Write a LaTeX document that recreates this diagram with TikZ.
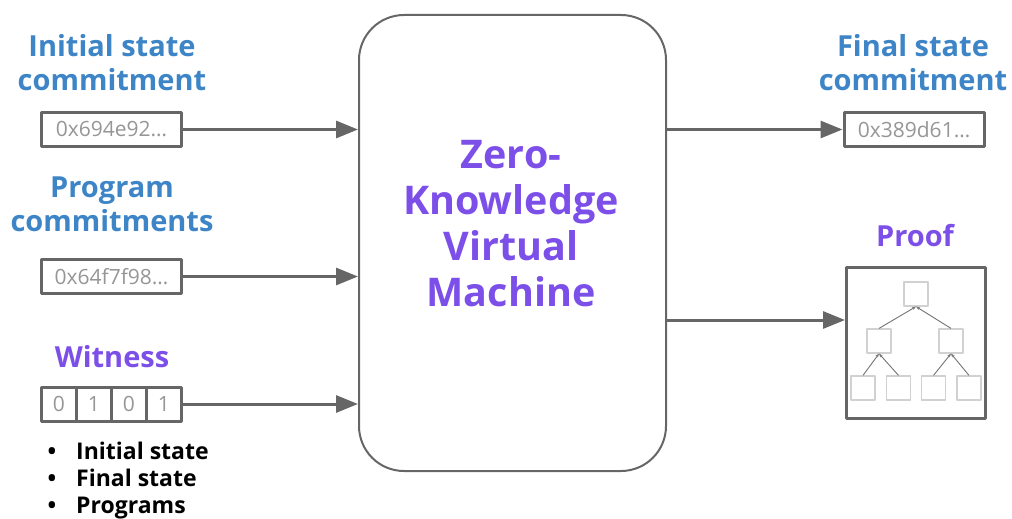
\documentclass[tikz,border=0pt]{standalone}
\usepackage{fontspec}
\setmainfont{Open Sans}
\usetikzlibrary{arrows.meta}
\definecolor{zkblue}{RGB}{61,133,198}
\definecolor{zkpurple}{RGB}{124,80,232}
\definecolor{boxgray}{RGB}{102,102,102}
\definecolor{hexgray}{RGB}{150,150,150}
\begin{document}
\begin{tikzpicture}[x=1pt,y=-1pt,line join=round,
	inlabel/.style={font=\fontsize{29}{34}\selectfont\bfseries,text=zkblue,align=center},
	plabel/.style={inlabel,text=zkpurple},
	hexbox/.style={draw=boxgray,line width=3pt,minimum width=140pt,minimum height=34pt,inner sep=0pt,font=\fontsize{21}{22}\selectfont,text=hexgray},
	bitcell/.style={hexbox,minimum width=35pt},
	flow/.style={draw=boxgray,line width=3pt,-{Triangle[length=22pt,width=17pt]}},
	leaf/.style={draw=black!18,line width=1.2pt,minimum size=24pt,inner sep=0pt},
	treelink/.style={draw=black!55,line width=0.9pt,-{Stealth[length=4pt,width=3pt]}}]
	\useasboundingbox (0,0) rectangle (1012,519);
	\node[draw=boxgray,line width=2pt,rounded corners=45pt,minimum width=307pt,minimum height=456pt] (vm) at (512.5,243) {};
	\node[font=\fontsize{39.5}{46}\selectfont\bfseries,text=zkpurple,align=center] (vmtext) at (511,224) {Zero-\\Knowledge\\Virtual\\Machine};
	\node[inlabel] (initlabel) at (112,63) {Initial state\\commitment};
	\node[hexbox] (init) at (111.5,129.5) {0x694e92…};
	\node[inlabel] (proglabel) at (112,204) {Program\\commitments};
	\node[hexbox] (prog) at (111.5,276.5) {0x64f7f98…};
	\node[plabel] (witnesslabel) at (112,357) {Witness};
	\foreach \b [count=\i] in {0,1,0,1}
		\node[bitcell] (bit\i) at ({59+(\i-1)*35},404) {\b};
	\node[anchor=west,font=\fontsize{23}{27}\selectfont\bfseries,align=left] (witnesslist) at (44,481) {\textbullet\hspace{20pt}Initial state\\\textbullet\hspace{20pt}Final state\\\textbullet\hspace{20pt}Programs};
	\node[inlabel] (finallabel) at (913,63) {Final state\\commitment};
	\node[hexbox] (final) at (914,129.5) {0x389d61…};
	\node[plabel] (prooflabel) at (915,236) {Proof};
	\node[draw=boxgray,line width=3pt,minimum width=139pt,minimum height=151pt] (proof) at (916,343) {};
	\node[leaf] (t1) at (916,294) {};
	\node[leaf] (m1) at (879,341) {};
	\node[leaf] (m2) at (951,341) {};
	\node[leaf] (b1) at (863,388) {};
	\node[leaf] (b2) at (898.5,388) {};
	\node[leaf] (b3) at (933.5,388) {};
	\node[leaf] (b4) at (969,388) {};
	\foreach \c/\p in {m1/t1,m2/t1,b1/m1,b2/m1,b3/m2,b4/m2}
		\draw[treelink] (\c.north) -- (\p.south);
	\draw[flow] (init.east) -- (init.east -| vm.west);
	\draw[flow] (prog.east) -- (prog.east -| vm.west);
	\draw[flow] (bit4.east) -- (bit4.east -| vm.west);
	\draw[flow] (vm.east |- final.west) -- (final.west);
	\coordinate (proofin) at ([yshift=23pt]proof.west);
	\draw[flow] (vm.east |- proofin) -- (proofin);
\end{tikzpicture}
\end{document}
